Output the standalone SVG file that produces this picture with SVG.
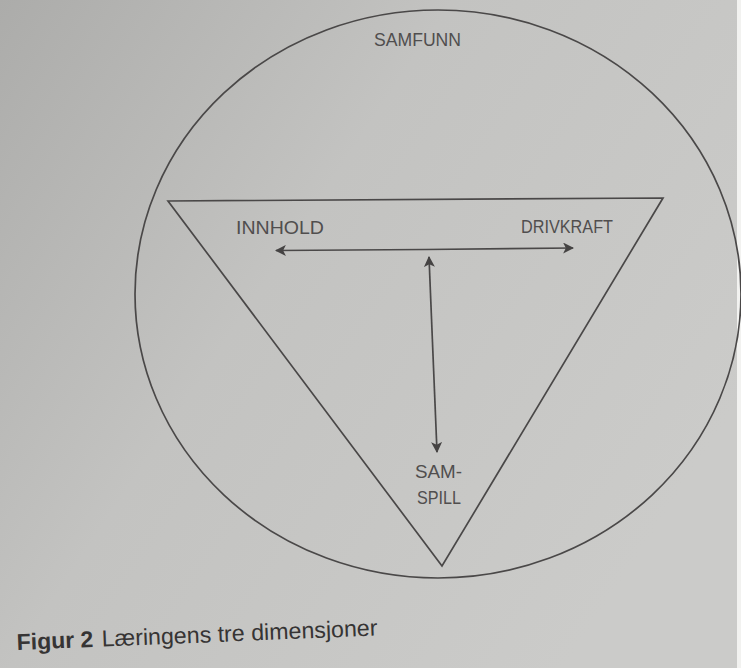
<svg xmlns="http://www.w3.org/2000/svg" width="741" height="668" viewBox="0 0 741 668">
  <defs>
    <linearGradient id="bg" x1="0" y1="0" x2="1" y2="0.6">
      <stop offset="0" stop-color="#acacaa"/>
      <stop offset="0.45" stop-color="#c3c3c1"/>
      <stop offset="1" stop-color="#cbcbc9"/>
    </linearGradient>
    <marker id="ah" viewBox="0 0 10 10" refX="9" refY="5" markerWidth="11" markerHeight="11" markerUnits="userSpaceOnUse" orient="auto">
      <path d="M0,0 L10,5 L0,10 L2.5,5 Z" fill="#454343"/>
    </marker>
    <style>
      .ln { fill: none; stroke: #4a4848; stroke-width: 1.7; }
      .lbl { font-family: "Liberation Sans", Arial, sans-serif; font-size: 18px; fill: #504e4e; }
      .cap { font-family: "Liberation Sans", Arial, sans-serif; font-size: 23px; fill: #363434; }
    </style>
  </defs>
  <rect x="0" y="0" width="741" height="668" fill="url(#bg)"/>
  <rect x="737" y="0" width="4" height="668" fill="#f2f2f0"/>
  <g id="samfunn">
    <ellipse class="ln" cx="438" cy="294" rx="303" ry="284"/>
    <text class="lbl" x="374" y="46" textLength="87" lengthAdjust="spacingAndGlyphs">SAMFUNN</text>
  </g>
  <g id="triangle">
    <polygon class="ln" points="168,201 663,198 442,566"/>
  </g>
  <g id="innhold">
    <text class="lbl" x="236" y="234" textLength="88" lengthAdjust="spacingAndGlyphs">INNHOLD</text>
  </g>
  <g id="drivkraft">
    <text class="lbl" x="521" y="233" textLength="92" lengthAdjust="spacingAndGlyphs">DRIVKRAFT</text>
  </g>
  <g id="samspill">
    <text class="lbl" x="415" y="478" textLength="47" lengthAdjust="spacingAndGlyphs">SAM-</text>
    <text class="lbl" x="417" y="504" textLength="44" lengthAdjust="spacingAndGlyphs">SPILL</text>
  </g>
  <g id="connectors">
    <line class="ln" x1="425" y1="249.5" x2="276" y2="250.5" marker-end="url(#ah)"/>
    <line class="ln" x1="425" y1="249.5" x2="573" y2="248" marker-end="url(#ah)"/>
    <line class="ln" x1="433" y1="355" x2="429" y2="257" marker-end="url(#ah)"/>
    <line class="ln" x1="433" y1="355" x2="437" y2="452" marker-end="url(#ah)"/>
  </g>
  <g id="caption" transform="rotate(-2.3 17 650)">
    <text class="cap" x="17" y="650"><tspan font-weight="bold">Figur 2</tspan><tspan x="102" textLength="276" lengthAdjust="spacingAndGlyphs">Læringens tre dimensjoner</tspan></text>
  </g>
</svg>
